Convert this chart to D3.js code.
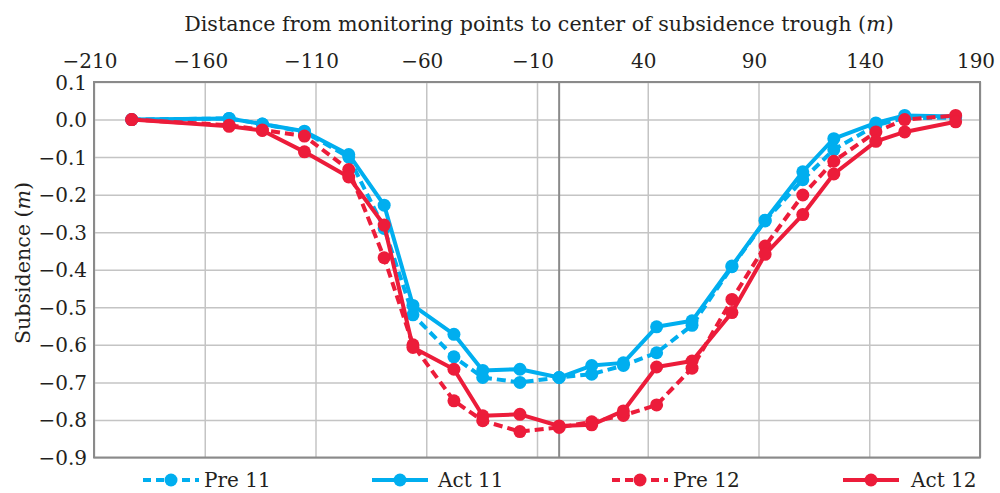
<!DOCTYPE html>
<html lang="en">
<head>
<meta charset="UTF-8">
<script src="https://d3js.org/d3.v7.min.js"></script>
<title>Subsidence</title>
<style>
    body { margin: 0; background: #fff; }
    text { font-family: "DejaVu Serif", serif; fill: #231f20; }
</style>
</head>
<body>
<svg width="1000" height="493" id="chart"></svg>
<script>
    // distance of each monitoring point (m)
    var distance = [-193, -149, -134, -115, -95, -79, -66, -47.5, -34.5, -17.7, 0, 14.7, 29, 44, 60, 78, 93, 110, 124, 143, 156, 179];
    // subsidence (m)
    var pre11 = [0.000, 0.003, -0.012, -0.033, -0.100, -0.290, -0.520, -0.632, -0.687, -0.700, -0.687, -0.678, -0.655, -0.621, -0.548, -0.392, -0.270, -0.160, -0.080, -0.015, 0.004, 0.005];
    var act11 = [0.000, 0.003, -0.012, -0.031, -0.093, -0.228, -0.495, -0.572, -0.668, -0.665, -0.687, -0.655, -0.648, -0.552, -0.536, -0.390, -0.268, -0.139, -0.051, -0.009, 0.011, 0.008];
    var pre12 = [0.000, -0.015, -0.028, -0.044, -0.133, -0.368, -0.600, -0.749, -0.802, -0.831, -0.820, -0.805, -0.788, -0.760, -0.662, -0.479, -0.337, -0.201, -0.111, -0.033, 0.000, 0.011];
    var act12 = [0.000, -0.018, -0.029, -0.086, -0.153, -0.281, -0.607, -0.665, -0.789, -0.785, -0.816, -0.813, -0.776, -0.659, -0.643, -0.514, -0.359, -0.253, -0.145, -0.058, -0.033, -0.006];

    var xTicks = [-210, -160, -110, -60, -10, 40, 90, 140, 190];
    var yTicks = [0.1, 0, -0.1, -0.2, -0.3, -0.4, -0.5, -0.6, -0.7, -0.8, -0.9];
    var seriesNames = ["Pre 11", "Act 11", "Pre 12", "Act 12"];

    var blue = "#00aeef", red = "#ec1c3a";
    var series = [
        {name: seriesNames[0], values: pre11, color: blue, dash: "9,5"},
        {name: seriesNames[1], values: act11, color: blue, dash: null},
        {name: seriesNames[2], values: pre12, color: red, dash: "9,5"},
        {name: seriesNames[3], values: act12, color: red, dash: null}
    ];

    var plotLeft = 94, plotRight = 980, plotTop = 82, plotBottom = 457.5;
    var svg = d3.select('#chart');

    var x = d3.scaleLinear().domain([-210, 190]).range([plotLeft, plotRight]);
    var y = d3.scaleLinear().domain([-0.9, 0.1]).range([plotBottom, plotTop]);

    // grid
    svg.append('g')
        .attr('transform', 'translate(0,' + plotBottom + ')')
        .call(d3.axisBottom(x).tickValues(xTicks).tickSize(-(plotBottom - plotTop)).tickFormat(''));
    svg.append('g')
        .attr('transform', 'translate(' + plotLeft + ',0)')
        .call(d3.axisLeft(y).tickValues(yTicks).tickSize(-(plotRight - plotLeft)).tickFormat(''));
    svg.selectAll('.domain').remove();
    svg.selectAll('.tick line').attr('stroke', '#c4c4c4').attr('stroke-width', 1.5);

    // zero line + frame
    svg.append('line')
        .attr('x1', x(0)).attr('x2', x(0))
        .attr('y1', plotTop).attr('y2', plotBottom)
        .attr('stroke', '#8a8a8a').attr('stroke-width', 2);
    svg.append('rect')
        .attr('x', plotLeft).attr('y', plotTop)
        .attr('width', plotRight - plotLeft).attr('height', plotBottom - plotTop)
        .attr('fill', 'none').attr('stroke', '#8a8a8a').attr('stroke-width', 2);

    // tick labels
    var fmtY = d3.format('.1f');
    var fmtX = d3.format('d');
    svg.append('g').selectAll('text')
        .data(xTicks)
        .enter().append('text')
        .attr('x', function(d){ return x(d) - 4; })
        .attr('y', 68)
        .attr('text-anchor', 'middle')
        .style('font-size', '20px')
        .text(function(d){ return fmtX(d); });
    svg.append('g').selectAll('text')
        .data(yTicks)
        .enter().append('text')
        .attr('x', 87)
        .attr('y', function(d){ return y(d) + 7.5; })
        .attr('text-anchor', 'end')
        .style('font-size', '20px')
        .text(function(d){ return fmtY(d); });

    // axis titles
    var xTitle = svg.append('text')
        .attr('x', 539)
        .attr('y', 31)
        .attr('text-anchor', 'middle')
        .style('font-size', '20.6px');
    xTitle.append('tspan').text('Distance from monitoring points to center of subsidence trough (');
    xTitle.append('tspan').style('font-style', 'italic').text('m');
    xTitle.append('tspan').text(')');

    var yTitle = svg.append('text')
        .attr('transform', 'translate(30,263) rotate(-90)')
        .attr('text-anchor', 'middle')
        .style('font-size', '20.6px');
    yTitle.append('tspan').text('Subsidence (');
    yTitle.append('tspan').style('font-style', 'italic').text('m');
    yTitle.append('tspan').text(')');

    // series
    var line = d3.line()
        .x(function(d, i){ return x(distance[i]); })
        .y(function(d){ return y(d); });

    var g = svg.selectAll('.series')
        .data(series)
        .enter().append('g')
        .classed('series', true);
    g.append('path')
        .attr('d', function(d){ return line(d.values); })
        .attr('fill', 'none')
        .attr('stroke', function(d){ return d.color; })
        .attr('stroke-width', 4)
        .attr('stroke-linejoin', 'round')
        .attr('stroke-dasharray', function(d){ return d.dash; });
    g.selectAll('circle')
        .data(function(d){ return d.values.map(function(v, i){ return {v: v, i: i, color: d.color}; }); })
        .enter().append('circle')
        .attr('cx', function(d){ return x(distance[d.i]); })
        .attr('cy', function(d){ return y(d.v); })
        .attr('r', 6.5)
        .attr('fill', function(d){ return d.color; });

    // legend
    var legendLineX = [143, 372, 612, 843];
    var legendTextX = [204, 438, 673, 911];
    var legendY = 480;
    var lg = svg.selectAll('.legend')
        .data(series)
        .enter().append('g')
        .classed('legend', true);
    lg.append('line')
        .attr('x1', function(d, i){ return legendLineX[i]; })
        .attr('x2', function(d, i){ return legendLineX[i] + 56; })
        .attr('y1', legendY).attr('y2', legendY)
        .attr('stroke', function(d){ return d.color; })
        .attr('stroke-width', 4)
        .attr('stroke-dasharray', function(d){ return d.dash ? '8,5' : null; });
    lg.append('circle')
        .attr('cx', function(d, i){ return legendLineX[i] + 28; })
        .attr('cy', legendY)
        .attr('r', 6.5)
        .attr('fill', function(d){ return d.color; });
    lg.append('text')
        .attr('x', function(d, i){ return legendTextX[i]; })
        .attr('y', legendY + 7)
        .style('font-size', '20px')
        .text(function(d){ return d.name; });
</script>
</body>
</html>
